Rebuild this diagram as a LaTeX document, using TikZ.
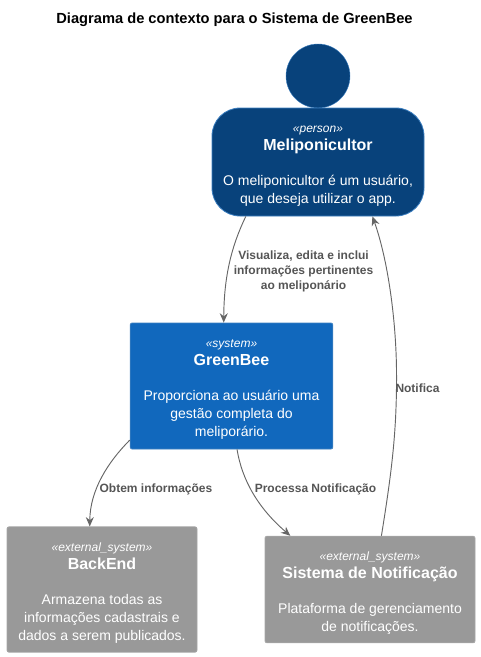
\documentclass[tikz,border=0pt]{standalone}
\usepackage{fontspec}
\setmainfont{Liberation Sans}
\usetikzlibrary{arrows.meta}
\tikzset{
		>={Stealth[length=7pt,width=6pt]},
			bloco/.style={draw, line width=.6pt, text=white, align=center, inner sep=0pt,
				font=\fontsize{10.5}{13.5}\selectfont},
			pessoa/.style={bloco, fill=pessoaCor, draw=bordaCor, rounded corners=21pt,
				minimum width=159pt, minimum height=81pt},
			sistema/.style={bloco, fill=sistemaCor, draw=bordaCor, rounded corners=1.5pt,
				minimum width=152pt, minimum height=94.5pt},
			externo/.style={bloco, fill=externoCor, draw=externoBorda, rounded corners=1.5pt},
			cabeca/.style={circle, fill=pessoaCor, draw=bordaCor, line width=.3pt,
				minimum size=48pt, inner sep=0pt},
			rel/.style={->, draw=relCor, line width=.7pt},
			rotulo/.style={text=textoCor, align=center, inner sep=0pt,
				font=\fontsize{9}{11.4}\selectfont\bfseries},
			titulo/.style={inner sep=0pt, font=\fontsize{11}{13}\selectfont\bfseries},
		}
\definecolor{pessoaCor}{HTML}{08427B}
\definecolor{sistemaCor}{HTML}{1168BD}
\definecolor{externoCor}{HTML}{999999}
\definecolor{bordaCor}{HTML}{3C7FC0}
\definecolor{externoBorda}{HTML}{A6A6A6}
\definecolor{relCor}{HTML}{666666}
\definecolor{textoCor}{HTML}{555555}
\newcommand{\caixa}[3]{\rule{0pt}{11.5pt}{\fontsize{9}{13.5}\selectfont\itshape «#1»}\\
	{\fontsize{12}{13.5}\selectfont\bfseries #2}\\[13pt]#3}

\begin{document}
\begin{tikzpicture}
				[x=.75pt,y=-.75pt]
				\useasboundingbox (0,0) rectangle (480,657);

				\node[titulo] (title) at (234.5,20) {Diagrama de contexto para o Sistema de GreenBee};

				\node[cabeca] (head) at (318,76) {};
				\node[pessoa] (meliponicultor) at (318,162)
					{\caixa{person}{Meliponicultor}{O meliponicultor é um usuário,\\que deseja utilizar o app.}};
				\node[sistema] (greenbee) at (231.5,386)
					{\caixa{system}{GreenBee}{Proporciona ao usuário uma\\gestão completa do\\meliporário.}};
				\node[externo, minimum width=142.5pt, minimum height=94pt] (backend) at (102,589.5)
					{\caixa{external\_system}{BackEnd}{Armazena todas as\\informações cadastrais e\\dados a serem publicados.}};
				\node[externo, minimum width=157.5pt, minimum height=80pt] (notificacao) at (370,589.5)
					{\caixa{external\_system}{Sistema de Notificação}{Plataforma de gerenciamento\\de notificações.}};

				\draw[rel] (meliponicultor.217) .. controls (232,245) and (224,275) .. (greenbee.97);
				\draw[rel] (notificacao.78) .. controls (392,470) and (397,430) .. (396.5,370)
					.. controls (396,320) and (388,260) .. (meliponicultor.-45.4);
				\draw[rel] (greenbee.208.8) .. controls (108,462) and (90,490) .. (backend.101.5);
				\draw[rel] (greenbee.-85.5) .. controls (242,480) and (258,508) .. (notificacao.146.9);

				\node[rotulo] (l1) at (303.5,271.5) {Visualiza, edita e inclui\\informações pertinentes\\ao meliponário};
				\node[rotulo] (l2) at (156,489.5) {Obtem informações};
				\node[rotulo] (l3) at (315.5,489.5) {Processa Notificação};
				\node[rotulo] (l4) at (417.5,388.5) {Notifica};
			\end{tikzpicture}
\end{document}
